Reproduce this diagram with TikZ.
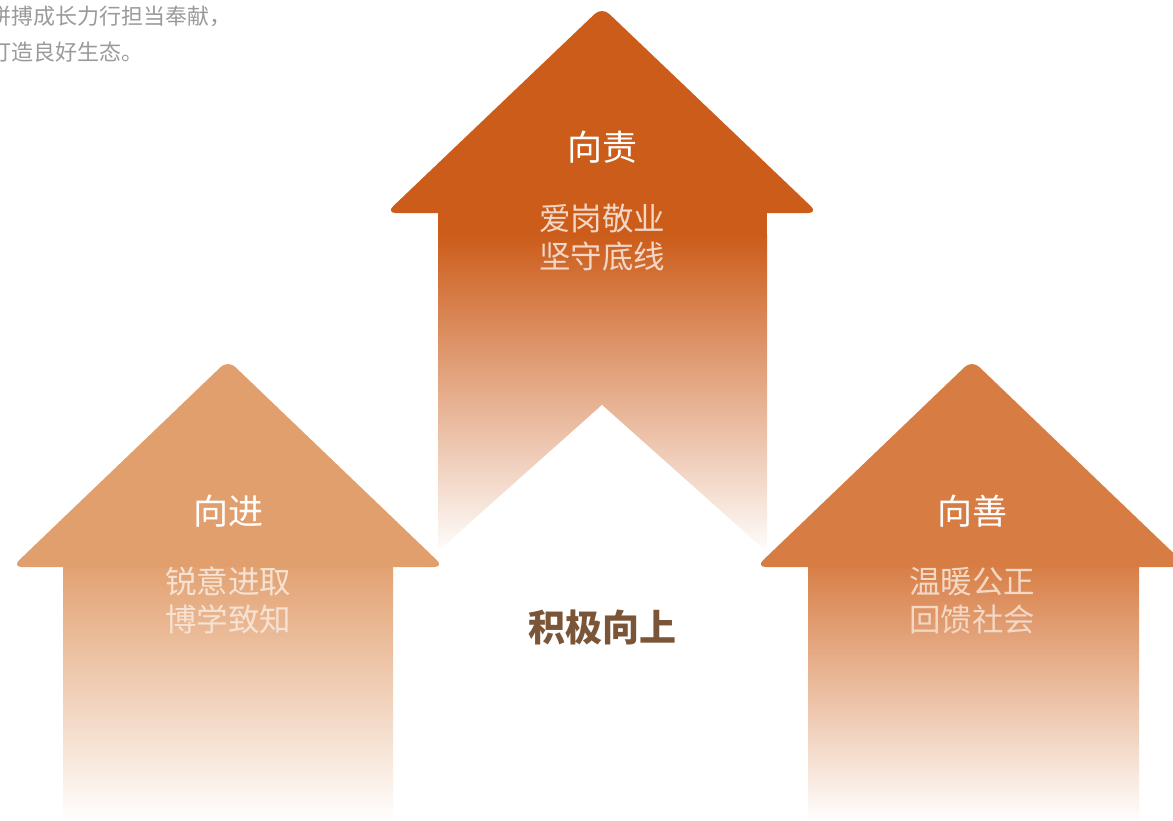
\documentclass[tikz,border=0pt]{standalone}
\usepackage{fontspec}
\newfontfamily\cjk{Noto Sans CJK SC}
\definecolor{topc}{HTML}{CC5C1A}
\definecolor{leftc}{HTML}{E29F6E}
\definecolor{rightc}{HTML}{D77C42}
\definecolor{centc}{HTML}{7B5537}
\definecolor{grayt}{HTML}{9A9A9A}
\tikzset{
  headshape/.style={rounded corners=10pt, draw=none},
  ttl/.style={text=white, font=\cjk\fontsize{35}{40}\selectfont, inner sep=0pt, anchor=center},
  sub/.style={font=\cjk\fontsize{31.5}{38}\selectfont, inner sep=0pt, align=center, anchor=north},
}
\begin{document}
\begin{tikzpicture}[x=1pt,y=-1pt]
\useasboundingbox (0,0) rectangle (1173,820);
\clip (0,0) rectangle (1173,820);
% top arrow
\fill[topc] (438,205) rectangle (767,236);
\shade[top color=topc, bottom color=white] (438,235) rectangle (767,556);
\fill[topc, headshape] (602,7) -- (818,213) -- (386,213) -- cycle;
% white centre triangle
\fill[white] (602,405) -- (380,603) -- (824,603) -- cycle;
% left arrow
\shade[top color=leftc, bottom color=white] (63,560) rectangle (393,822);
\fill[leftc, headshape] (228,360) -- (444,567) -- (12,567) -- cycle;
% right arrow
\shade[top color=rightc, bottom color=white] (808,560) rectangle (1139,822);
\fill[rightc, headshape] (972,360) -- (1188,567) -- (756,567) -- cycle;
% texts
\node[ttl] (t1) at (602,147) {向责};
\node[sub, text=white!75!topc] (s1) at (602,204) {爱岗敬业\\坚守底线};
\node[ttl] (t2) at (228,511) {向进};
\node[sub, text=white!70!leftc] (s2) at (228,567) {锐意进取\\博学致知};
\node[ttl] (t3) at (972,511) {向善};
\node[sub, text=white!70!rightc] (s3) at (972,567) {温暖公正\\回馈社会};
\node[text=centc, font=\cjk\bfseries\fontsize{37}{40}\selectfont, inner sep=0pt] (c) at (602,627) {积极向上};
\node[text=grayt, font=\cjk\fontsize{22}{36}\selectfont, inner sep=0pt, anchor=north west, align=left] (g) at (-11,6) {拼搏成长力行担当奉献，\\打造良好生态。};
\end{tikzpicture}
\end{document}
